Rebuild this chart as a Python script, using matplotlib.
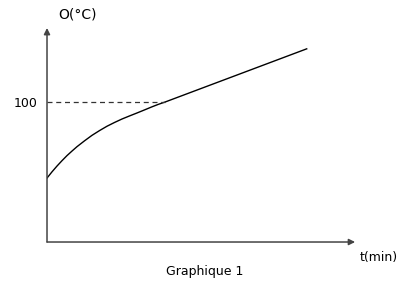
import matplotlib
matplotlib.use("Agg")
import matplotlib.pyplot as plt

# heating curve
t_min = [0, 0.42, 0.85, 1.27, 1.69, 2.12, 2.54, 3.18, 3.81, 4.45, 5.08,
         5.72, 6.36, 7.0, 7.63, 8.27, 8.9, 9.45, 10, 22]
temp = [45.7, 50.1, 54.3, 58.1, 61.7, 65.0, 68.1, 72.3, 76.2, 79.6, 82.7,
        85.4, 87.9, 90.1, 92.2, 94.4, 96.6, 98.4, 100, 138]
t_knee = 10
temp_knee = 100

fig = plt.figure(figsize=(4.07, 2.82), dpi=100)
ax = fig.add_axes([0.1155, 0.1418, 0.757, 0.759])
ax.set_xlim(0, 26.1)
ax.set_ylim(0, 152.9)
for s in ax.spines.values():
    s.set_visible(False)
ax.set_xticks([])
ax.set_yticks([temp_knee])
ax.set_yticklabels(["100"], fontsize=9)
ax.tick_params(axis="y", length=0, pad=7)

axcol = "#444444"
ax.annotate("", xy=(1, 0), xytext=(0, 0), xycoords="axes fraction",
            arrowprops=dict(arrowstyle="-|>", color=axcol, lw=1.1,
                            mutation_scale=9, shrinkA=0, shrinkB=0))
ax.annotate("", xy=(0, 1), xytext=(0, 0), xycoords="axes fraction",
            arrowprops=dict(arrowstyle="-|>", color=axcol, lw=1.1,
                            mutation_scale=9, shrinkA=0, shrinkB=0))

ax.plot(t_min, temp, color="black", lw=1)
ax.plot([0, t_knee], [temp_knee, temp_knee], color="#333333", lw=0.9,
        ls=(0, (4, 3)))

fig.text(58 / 407, 1 - 15 / 282, "O(°C)", fontsize=10, va="center", ha="left")
fig.text(360 / 407, 1 - 257 / 282, "t(min)", fontsize=9, va="center", ha="left")
fig.text(205 / 407, 1 - 272 / 282, "Graphique 1", fontsize=9, va="center",
         ha="center")

fig.savefig("out.png", dpi=100)
